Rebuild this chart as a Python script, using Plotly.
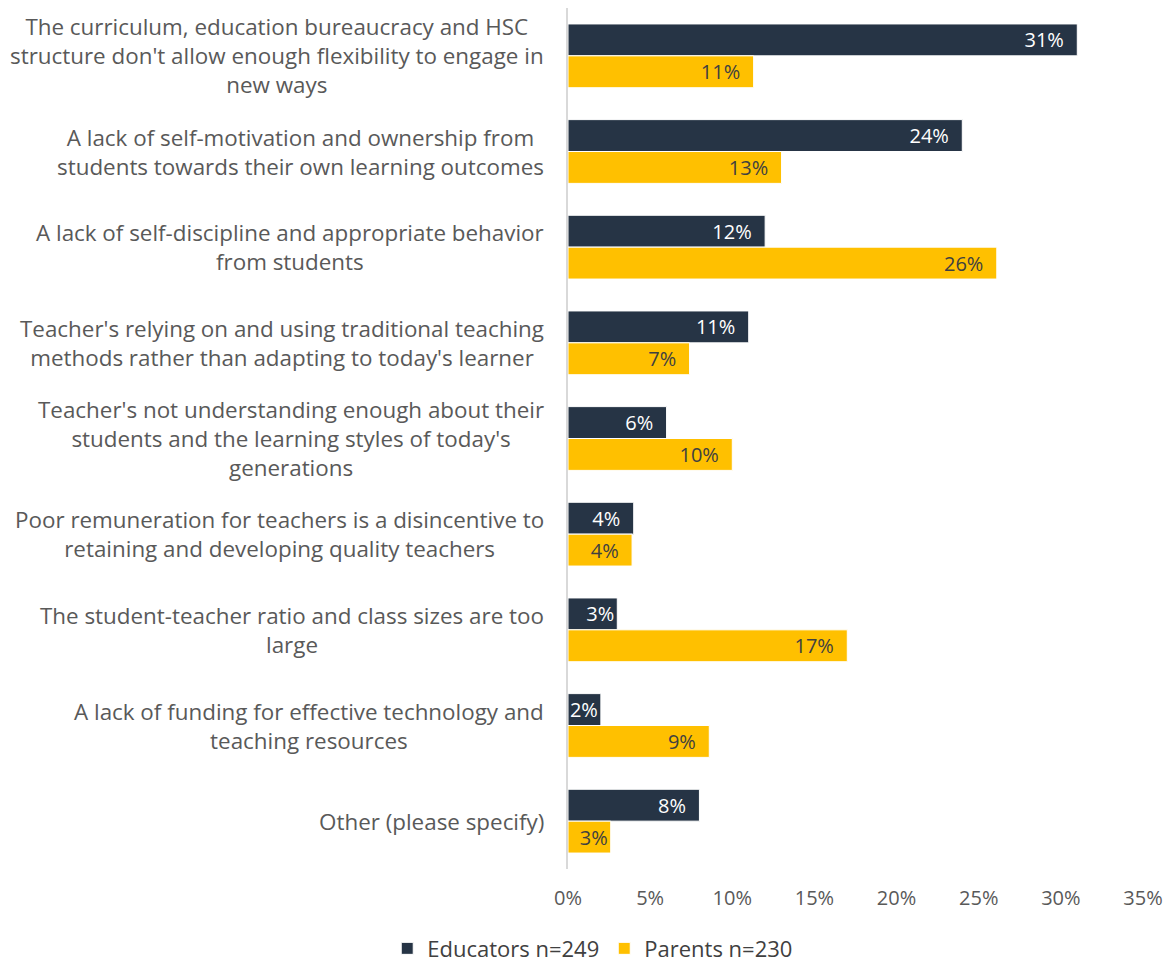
import plotly.graph_objects as go

# Survey categories (top to bottom)
categories = [
    "The curriculum, education bureaucracy and HSC<br>structure don't allow enough flexibility to engage in<br>new ways",
    "A lack of self-motivation and ownership from<br>students towards their own learning outcomes",
    "A lack of self-discipline and appropriate behavior<br>from students",
    "Teacher's relying on and using traditional teaching<br>methods rather than adapting to today's learner",
    "Teacher's not understanding enough about their<br>students and the learning styles of today's<br>generations",
    "Poor remuneration for teachers is a disincentive to<br>retaining and developing quality teachers",
    "The student-teacher ratio and class sizes are too<br>large",
    "A lack of funding for effective technology and<br>teaching resources",
    "Other (please specify)",
]

educators = [31.0, 24.0, 12.0, 11.0, 6.0, 4.0, 3.0, 2.0, 8.0]
parents = [11.3, 13.0, 26.1, 7.4, 10.0, 3.9, 17.0, 8.6, 2.6]

x_ticks = [0, 5, 10, 15, 20, 25, 30, 35]
x_tick_labels = ["0%", "5%", "10%", "15%", "20%", "25%", "30%", "35%"]

FONT = "'Open Sans', Lato, sans-serif"
NAVY = "#263445"
GOLD = "#FFC000"
PAD = "\u00a0\u00a0"


def label_templates(vals):
    # small bars get no right padding so the label stays on the bar
    return ["%{x:.0f}%" + (PAD if v >= 3.5 else "") for v in vals]


fig = go.Figure()

fig.add_trace(go.Bar(
    y=categories, x=educators, orientation="h",
    name="Educators n=249",
    marker=dict(color=NAVY, line=dict(color="white", width=1)),
    texttemplate=label_templates(educators), textposition="inside",
    insidetextanchor="end", constraintext="none", cliponaxis=False,
    textfont=dict(color="white", size=20, family=FONT),
    hoverinfo="skip",
))

fig.add_trace(go.Bar(
    y=categories, x=parents, orientation="h",
    name="Parents n=230",
    marker=dict(color=GOLD, line=dict(color="white", width=1)),
    texttemplate=label_templates(parents), textposition="inside",
    insidetextanchor="end", constraintext="none", cliponaxis=False,
    textfont=dict(color="#404040", size=20, family=FONT),
    hoverinfo="skip",
))

# centered multi-line category labels
for cat in categories:
    fig.add_annotation(
        x=0, xref="paper", y=cat, yref="y",
        text=cat, showarrow=False, xanchor="right", align="center",
        xshift=-22, font=dict(size=22.4, color="#595959", family=FONT),
    )

# page body adds an 8px offset, so the figure is sized to compensate
fig.update_layout(
    width=1166, height=956,
    margin=dict(l=560, r=31, t=0, b=95, autoexpand=False),
    plot_bgcolor="white", paper_bgcolor="white",
    barmode="group", bargap=1/3, bargroupgap=0,
    font=dict(family=FONT, color="#595959"),
    showlegend=True,
    legend=dict(
        orientation="h", x=0.043, xanchor="center", y=-0.068, yanchor="top",
        font=dict(size=22, color="#404040", family=FONT),
        traceorder="normal",
    ),
)

fig.update_xaxes(
    range=[0, 35], tickvals=x_ticks, ticktext=x_tick_labels,
    showgrid=False, zeroline=False, showline=False,
    tickfont=dict(size=20, color="#595959", family=FONT),
    ticks="", ticklabelstandoff=15, automargin=False,
)

fig.update_yaxes(
    autorange="reversed", showticklabels=False, showgrid=False,
    zeroline=False, showline=True, linecolor="#d9d9d9", linewidth=2,
    ticks="", automargin=False,
)

fig.write_html("out.html")
